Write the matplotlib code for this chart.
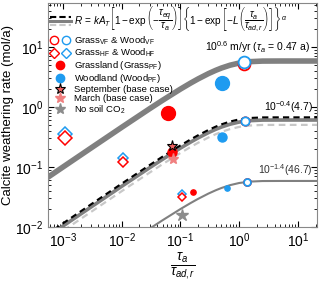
import matplotlib
matplotlib.use("Agg")
import matplotlib.pyplot as plt
from matplotlib.lines import Line2D
from matplotlib.legend_handler import HandlerTuple

plt.rcParams['font.family'] = ['Liberation Sans', 'DejaVu Sans']
plt.rcParams['mathtext.fontset'] = 'custom'
plt.rcParams['mathtext.rm'] = 'Liberation Sans'
plt.rcParams['mathtext.it'] = 'Liberation Sans:italic'
plt.rcParams['mathtext.bf'] = 'Liberation Sans:bold'

# model curves (x = tau_a / tau_ad,r)
curve_x = [5e-4, 1e-3, 3e-3, 1e-2, 3e-2, 0.05, 0.1, 0.15, 0.2, 0.3, 0.4, 0.5,
           0.7, 1, 1.5, 2.5, 5, 25]
curve_high = [0.0630, 0.0999, 0.207, 0.4586, 0.939, 1.30, 1.989, 2.515, 2.942,
              3.606, 4.095, 4.468, 4.981, 5.409, 5.703, 5.832, 5.848, 5.848]
curve_mid_sep = [0.00725, 0.01149, 0.02382, 0.0528, 0.1080, 0.1495, 0.2289,
                 0.2893, 0.3385, 0.4148, 0.4712, 0.5142, 0.5731, 0.6224,
                 0.6564, 0.6712, 0.673, 0.673]
curve_mid = [0.00654, 0.01036, 0.02148, 0.0476, 0.0974, 0.1348, 0.2064,
             0.2608, 0.3052, 0.3740, 0.4248, 0.4636, 0.5167, 0.5612, 0.5918,
             0.6052, 0.6068, 0.6068]
curve_mid_mar = [0.00540, 0.00860, 0.0178, 0.0395, 0.0808, 0.1119, 0.1713,
                 0.2165, 0.2534, 0.3104, 0.3526, 0.3848, 0.4289, 0.4658,
                 0.4913, 0.5024, 0.5037, 0.5037]
curve_low = [0.00063, 0.000999, 0.00207, 0.004586, 0.00939, 0.0130, 0.01989,
             0.02515, 0.02942, 0.03606, 0.04095, 0.04468, 0.04981, 0.05409,
             0.05703, 0.05832, 0.05848, 0.05848]

# simulation points
grass_vf_x = [1.21, 1.25, 1.34]
grass_vf_y = [5.31, 0.585, 0.056]
wood_vf_x = [1.22, 1.25, 1.34]
wood_vf_y = [5.69, 0.591, 0.0569]
grass_hf_x = [0.00108, 0.0106, 0.1047]
grass_hf_y = [0.301, 0.1225, 0.032]
wood_hf_x = [0.00108, 0.0106, 0.1047]
wood_hf_y = [0.355, 0.140, 0.0355]
grass_pf_x = [0.0619, 0.0708, 0.166]
grass_pf_y = [0.794, 0.175, 0.0383]
wood_pf_x = [0.502, 0.502, 0.611]
wood_pf_y = [2.48, 0.32, 0.0442]
sept_x, sept_y = [0.0708], [0.224]
march_x, march_y = [0.0736], [0.134]
noco2_x, noco2_y = [0.1047], [0.0158]

# marker sizes (pt) for the three recharge levels
size_vf = [8.5, 6, 5]
size_hf = [8.5, 6.5, 5]
size_pf = [10, 6.5, 3.8]

red = '#ff0000'
blue = '#1e9bf0'

fig = plt.figure(figsize=(3.2, 2.83), dpi=100)
ax = fig.add_axes([0.15, 0.198, 0.84, 0.791])
ax.set_xscale('log')
ax.set_yscale('log')

ax.plot(curve_x, curve_high, color='#808080', lw=4, solid_capstyle='butt', zorder=2)
ax.plot(curve_x, curve_mid_mar, color='#c8c8c8', lw=1.6, ls=(0, (3, 2)), zorder=2)
ax.plot(curve_x, curve_mid, color='#808080', lw=2.6, zorder=2)
ax.plot(curve_x, curve_mid_sep, color='black', lw=1.5, ls=(0, (3, 2)), zorder=3)
ax.plot(curve_x, curve_low, color='#808080', lw=1.5, zorder=2)

for i in range(3):
    ax.plot(wood_hf_x[i], wood_hf_y[i], 'D', mfc='white', mec=blue, mew=1.1,
            ms=size_hf[i] * 0.8, zorder=4)
    ax.plot(grass_hf_x[i], grass_hf_y[i], 'D', mfc='white', mec=red, mew=1.1,
            ms=size_hf[i] * 0.8, zorder=5)
    ax.plot(grass_pf_x[i], grass_pf_y[i], 'o', color=red, ms=size_pf[i], zorder=4)
    ax.plot(wood_pf_x[i], wood_pf_y[i], 'o', color=blue, ms=size_pf[i], zorder=4)
    ax.plot(grass_vf_x[i], grass_vf_y[i], 'o', mfc='white', mec=red, mew=1.3,
            ms=size_vf[i], zorder=5)
    ax.plot(wood_vf_x[i], wood_vf_y[i], 'o', mfc='white', mec=blue, mew=1.3,
            ms=size_vf[i], zorder=6)

ax.plot(sept_x, sept_y, '*', mfc='#f06060', mec='black', mew=0.8, ms=8, zorder=7)
ax.plot(march_x, march_y, '*', color='#f08080', ms=8, zorder=7)
ax.plot(noco2_x, noco2_y, '*', color='#8c8c8c', ms=9, zorder=7)

ax.set_xlim(5.56e-4, 21)
ax.set_ylim(1e-2, 54)
ax.tick_params(which='both', direction='in', top=True, right=True, labelsize=10)
ax.tick_params(which='major', length=4)
ax.tick_params(which='minor', length=2)
for s in ax.spines.values():
    s.set_color('#888888')
ax.set_ylabel('Calcite weathering rate (mol/a)', fontsize=9.5, labelpad=1)
ax.set_xlabel(r'$\frac{\tau_a}{\tau_{ad,r}}$', fontsize=14, labelpad=0)

ax.text(0.975, 0.77, r'10$^{0.6}$ m/yr ($\tau_a$ = 0.47 a)', transform=ax.transAxes,
        ha='right', va='bottom', fontsize=7.5)
ax.text(0.985, 0.5, r'10$^{-0.4}$(4.7)', transform=ax.transAxes,
        ha='right', va='bottom', fontsize=7.5)
ax.text(0.985, 0.22, r'10$^{-1.4}$(46.7)', transform=ax.transAxes,
        ha='right', va='bottom', fontsize=7.5, color='#333333')


class StackedLines:
    def legend_artist(self, legend, orig_handle, fontsize, handlebox):
        x0, y0 = handlebox.xdescent, handlebox.ydescent
        w, h = handlebox.width, handlebox.height
        specs = [('black', (0, (3, 1.5)), 1.5, 1.25),
                 ('#808080', '-', 2.2, 0.65),
                 ('#c8c8c8', (0, (3, 1.5)), 1.5, 0.1)]
        art = None
        for c, ls, lw, f in specs:
            art = Line2D([x0, x0 + w], [y0 + h * f, y0 + h * f], color=c, ls=ls,
                         lw=lw, transform=handlebox.get_transform())
            handlebox.add_artist(art)
        return art


formula = Line2D([], [])
h_vf = (Line2D([], [], marker='o', ls='', mfc='white', mec=red, mew=1, ms=6),
        Line2D([], [], marker='o', ls='', mfc='white', mec=blue, mew=1, ms=6))
h_hf = (Line2D([], [], marker='D', ls='', mfc='white', mec=red, mew=1, ms=5),
        Line2D([], [], marker='D', ls='', mfc='white', mec=blue, mew=1, ms=5))
h_gpf = Line2D([], [], marker='o', ls='', color=red, ms=6)
h_wpf = Line2D([], [], marker='o', ls='', color=blue, ms=6)
h_sep = Line2D([], [], marker='*', ls='', mfc='#f06060', mec='black', mew=0.8, ms=8)
h_mar = Line2D([], [], marker='*', ls='', color='#f08080', ms=8)
h_no = Line2D([], [], marker='*', ls='', color='#8c8c8c', ms=8)

labels = [r'$R\,=\,kA_T\left[1-\exp\left(-\dfrac{\tau_{eq}}{\tau_a}\right)\right]'
          r'\left\{1-\exp\left[-L\left(\dfrac{\tau_a}{\tau_{ad,r}}\right)\right]\right\}^{\alpha}$',
          r'Grass$_{\rm VF}$ & Wood$_{\rm VF}$',
          r'Grass$_{\rm HF}$ & Wood$_{\rm HF}$',
          r'Grassland (Grass$_{\rm PF}$)',
          r'Woodland (Wood$_{\rm PF}$)',
          'September (base case)',
          'March (base case)',
          r'No soil CO$_2$']
leg = ax.legend([formula, h_vf, h_hf, h_gpf, h_wpf, h_sep, h_mar, h_no], labels,
                handler_map={formula: StackedLines(), tuple: HandlerTuple(ndivide=None, pad=0.3)},
                loc='upper left', frameon=False, fontsize=6.8, handlelength=2.2,
                handletextpad=0.4, labelspacing=0.0, borderaxespad=0.1,
                borderpad=0.1)
leg.get_texts()[0].set_fontsize(7.2)

fig.savefig('out.png', dpi=100)
